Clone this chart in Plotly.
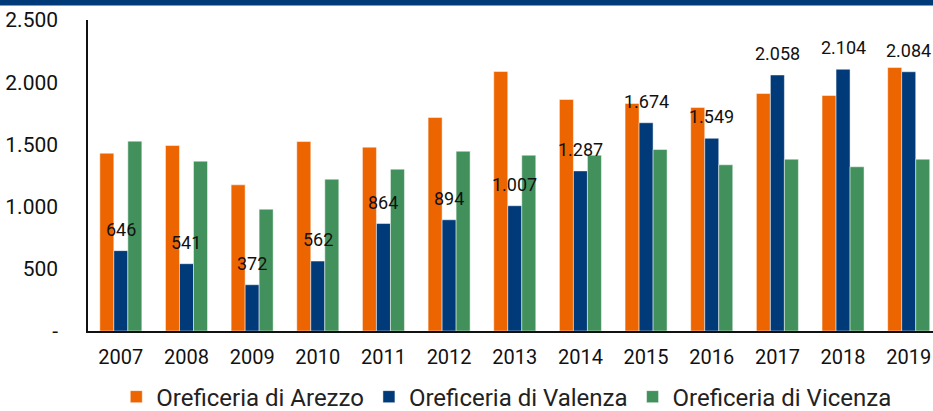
import plotly.graph_objects as go

years = ["2007","2008","2009","2010","2011","2012","2013","2014","2015","2016","2017","2018","2019"]
arezzo = [1429, 1491, 1175, 1523, 1478, 1716, 2086, 1861, 1829, 1797, 1909, 1893, 2118]
valenza = [646, 541, 372, 562, 864, 894, 1007, 1287, 1674, 1549, 2058, 2104, 2084]
vicenza = [1526, 1365, 979, 1220, 1301, 1445, 1413, 1413, 1459, 1336, 1381, 1320, 1381]
series_names = ["Oreficeria di Arezzo", "Oreficeria di Valenza", "Oreficeria di Vicenza"]
colors = ["#EC6500", "#003A78", "#42915C"]
ytick_vals = [0, 500, 1000, 1500, 2000, 2500]
ytick_text = ["-", "500", "1.000", "1.500", "2.000", "2.500"]

FONT = "Roboto"

fig = go.Figure()
for name, vals, c in zip(series_names, [arezzo, valenza, vicenza], colors):
    fig.add_trace(go.Bar(x=years, y=vals, name=name, marker_color=c,
                         marker_line=dict(color="rgba(255,255,255,0.6)", width=0.8)))

def fmt(v):
    return f"{v:,}".replace(",", ".")

for i, v in enumerate(valenza):
    fig.add_annotation(x=i, y=v, text=fmt(v), showarrow=False, xref="x", yref="y",
                       yanchor="bottom", yshift=9,
                       font=dict(family=FONT, size=18, color="#111"))

fig.add_shape(type="rect", xref="paper", yref="paper", x0=-0.2, x1=1.2,
              y0=1.047, y1=1.08, fillcolor="#003A78", line_width=0, layer="above")

fig.update_layout(
    width=933, height=411,
    margin=dict(l=88, r=0, t=20, b=80, autoexpand=False),
    plot_bgcolor="white", paper_bgcolor="white",
    barmode="group", bargap=0.36, bargroupgap=0,
    font=dict(family=FONT, size=20, color="#111"),
    showlegend=True,
    legend=dict(orientation="h", x=0.495, xanchor="center", y=-0.14, yanchor="top",
                font=dict(family=FONT, size=24, color="#222"),
                itemwidth=30, tracegroupgap=0),
    separators=",.",
)
fig.update_xaxes(type="category", range=[-0.5, 12.37], showline=True, linecolor="#111",
                 linewidth=2, ticks="", showgrid=False, ticklabelstandoff=7,
                 automargin=False, tickfont=dict(family=FONT, size=20))
fig.update_yaxes(range=[0, 2500], tickvals=ytick_vals, ticktext=ytick_text,
                 showline=True, linecolor="#111", linewidth=1.5, showgrid=False,
                 zeroline=False, ticks="", ticklabelstandoff=24, automargin=False,
                 tickfont=dict(family=FONT, size=21))

fig.write_html("out.html", config={"displayModeBar": False},
               post_script="document.body.style.margin='0';document.body.style.overflow='hidden';")
